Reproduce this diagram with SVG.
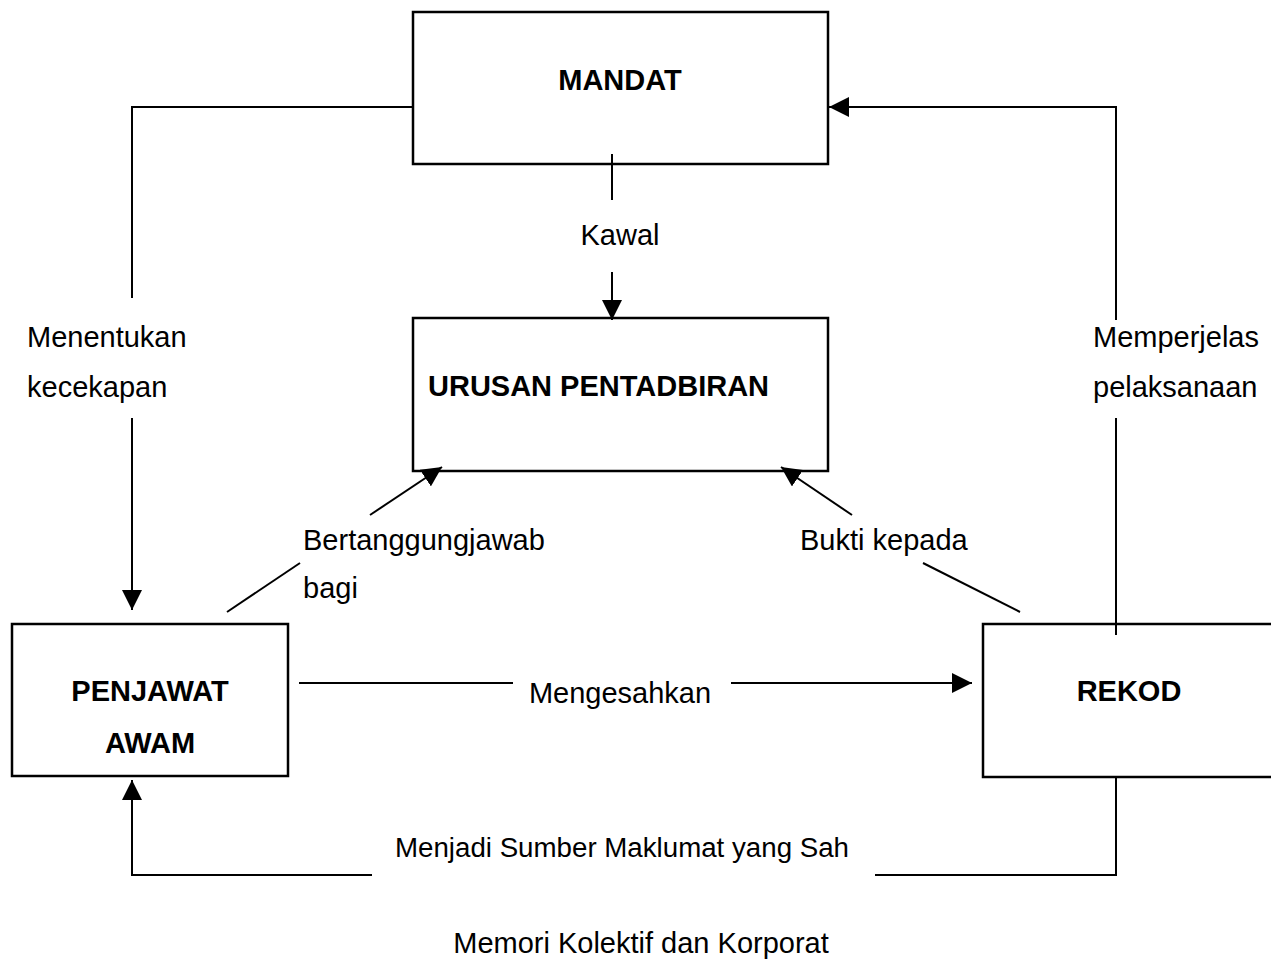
<svg xmlns="http://www.w3.org/2000/svg" width="1271" height="962" viewBox="0 0 1271 962">
<style>
.box{fill:none;stroke:#000;stroke-width:2.5}
.ln{fill:none;stroke:#000;stroke-width:2}
.t{font-family:"Liberation Sans",Arial,sans-serif;font-size:29px;fill:#000}
.b{font-weight:bold}
</style>
<defs>
<marker id="ah" markerUnits="userSpaceOnUse" markerWidth="20" markerHeight="20" refX="20" refY="10" orient="auto">
<path d="M0,0 L20,10 L0,20 z" fill="#000"/>
</marker>
</defs>
<rect width="1271" height="962" fill="#fff"/>
<g id="connectors">
<polyline class="ln" points="413,107 132,107 132,298"/>
<line class="ln" x1="132" y1="418" x2="132" y2="610" marker-end="url(#ah)"/>
<line class="ln" x1="612" y1="154" x2="612" y2="200"/>
<line class="ln" x1="612" y1="272" x2="612" y2="320" marker-end="url(#ah)"/>
<line class="ln" x1="227" y1="612" x2="300" y2="563"/>
<line class="ln" x1="370" y1="515" x2="442" y2="467" marker-end="url(#ah)"/>
<line class="ln" x1="1020" y1="612" x2="923" y2="563"/>
<line class="ln" x1="852" y1="515" x2="781" y2="467" marker-end="url(#ah)"/>
<line class="ln" x1="299" y1="683" x2="513" y2="683"/>
<line class="ln" x1="731" y1="683" x2="972" y2="683" marker-end="url(#ah)"/>
<line class="ln" x1="1116" y1="635" x2="1116" y2="418"/>
<polyline class="ln" points="1116,320 1116,107 829,107" marker-end="url(#ah)"/>
<polyline class="ln" points="1116,776 1116,875 875,875"/>
<polyline class="ln" points="372,875 132,875 132,780" marker-end="url(#ah)"/>
</g>
<g id="mandat">
<rect class="box" x="413" y="12" width="415" height="152"/>
<text class="t b" x="620" y="90" text-anchor="middle">MANDAT</text>
</g>
<g id="urusan">
<rect class="box" x="413" y="318" width="415" height="153"/>
<text class="t b" x="428" y="396">URUSAN PENTADBIRAN</text>
</g>
<g id="penjawat">
<rect class="box" x="12" y="624" width="276" height="152"/>
<text class="t b" x="150" y="701" text-anchor="middle">PENJAWAT</text>
<text class="t b" x="150" y="753" text-anchor="middle">AWAM</text>
</g>
<g id="rekod">
<rect class="box" x="983" y="624" width="300" height="153"/>
<text class="t b" x="1129" y="701" text-anchor="middle">REKOD</text>
</g>
<g id="labels">
<text class="t" x="620" y="245" text-anchor="middle">Kawal</text>
<text class="t" x="27" y="347">Menentukan</text>
<text class="t" x="27" y="397">kecekapan</text>
<text class="t" x="1093" y="347">Memperjelas</text>
<text class="t" x="1093" y="397">pelaksanaan</text>
<text class="t" x="303" y="550">Bertanggungjawab</text>
<text class="t" x="303" y="598">bagi</text>
<text class="t" x="800" y="550">Bukti kepada</text>
<text class="t" x="620" y="703" text-anchor="middle">Mengesahkan</text>
<text class="t" x="622" y="857" text-anchor="middle" style="font-size:27.7px">Menjadi Sumber Maklumat yang Sah</text>
<text class="t" x="641" y="953" text-anchor="middle">Memori Kolektif dan Korporat</text>
</g>
</svg>
